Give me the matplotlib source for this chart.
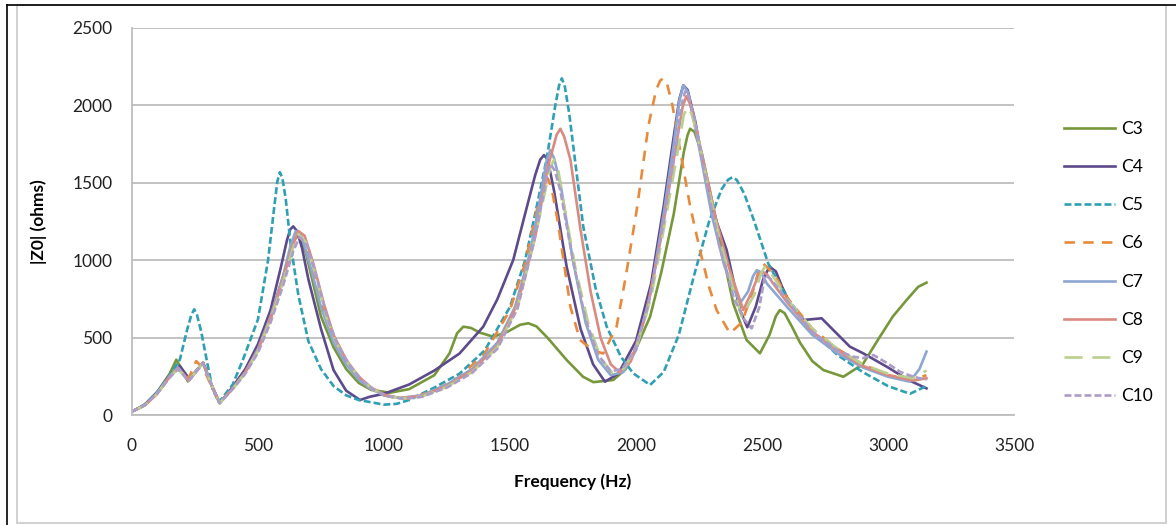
import matplotlib
matplotlib.use('Agg')
import matplotlib.pyplot as plt
from matplotlib.lines import Line2D
from matplotlib.patches import Rectangle

plt.rcParams['font.family'] = ['Lato', 'DejaVu Sans']
plt.rcParams['lines.scale_dashes'] = False

# values (frequency in Hz, |Z0| in ohms)
f_c3 = [0, 50, 100, 150, 176, 200, 222, 250, 282, 315, 348, 400, 450, 500, 550, 600, 630, 642, 655, 670, 690,
        715, 750, 800, 850, 900, 950, 1024, 1100, 1200, 1260, 1290, 1315, 1345, 1380, 1434, 1490, 1540,
        1573, 1605, 1650, 1725, 1790, 1831, 1910, 1960, 2000, 2056, 2100, 2150, 2190, 2205, 2215, 2232,
        2260, 2300, 2333, 2386, 2439, 2492, 2530, 2555, 2571, 2590, 2620, 2651, 2700, 2744, 2823, 2900,
        2968, 3020, 3074, 3120, 3153]
z_c3 = [25, 65, 150, 270, 360, 290, 220, 275, 340, 200, 80, 180, 290, 440, 640, 900, 1070, 1130, 1155, 1140, 1050,
        880, 640, 440, 300, 210, 165, 147, 170, 260, 400, 530, 573, 565, 535, 508, 540, 585,
        595, 575, 500, 358, 250, 215, 229, 300, 430, 637, 920, 1300, 1700, 1810, 1850, 1830,
        1700, 1400, 1132, 723, 487, 401, 520, 640, 680, 660, 570, 470, 350, 293, 250, 330,
        508, 640, 745, 830, 857]

f_c4 = [0, 50, 100, 150, 190, 228, 255, 283, 315, 348, 400, 450, 500, 550, 590, 615, 628, 640, 655, 675, 700,
        750, 800, 850, 905, 944, 1000, 1100, 1200, 1300, 1394, 1450, 1513, 1560, 1600, 1620, 1635, 1650,
        1675, 1725, 1780, 1830, 1877, 1930, 2000, 2060, 2110, 2150, 2172, 2188, 2205, 2235, 2280, 2320,
        2360, 2413, 2442, 2475, 2505, 2530, 2555, 2580, 2611, 2664, 2737, 2790, 2849, 2902, 3000, 3081,
        3153]
z_c4 = [25, 70, 150, 260, 320, 235, 290, 340, 200, 80, 185, 300, 460, 680, 950, 1130, 1200, 1220, 1190, 1080, 880,
        560, 293, 160, 100, 121, 140, 200, 290, 400, 573, 750, 1003, 1300, 1550, 1650, 1680, 1650,
        1450, 960, 560, 330, 218, 270, 480, 850, 1350, 1800, 2040, 2130, 2100, 1900, 1498, 1250,
        1067, 680, 569, 700, 880, 960, 930, 830, 724, 616, 627, 540, 444, 401, 310, 229,
        175]

f_c5 = [0, 50, 100, 150, 190, 220, 236, 247, 258, 275, 300, 320, 345, 400, 440, 500, 540, 565, 577, 587, 597,
        610, 630, 660, 700, 750, 800, 850, 900, 1000, 1050, 1100, 1200, 1300, 1400, 1500, 1560, 1600,
        1645, 1680, 1695, 1706, 1718, 1735, 1791, 1840, 1884, 1940, 1989, 2056, 2110, 2170, 2230, 2290,
        2340, 2365, 2382, 2400, 2430, 2470, 2525, 2600, 2700, 2800, 2900, 3000, 3087, 3153]
z_c5 = [25, 70, 150, 260, 360, 560, 650, 685, 650, 540, 330, 170, 85, 200, 358, 620, 1000, 1350, 1510, 1570, 1530,
        1400, 1100, 780, 480, 300, 190, 130, 100, 70, 75, 100, 180, 270, 420, 700, 1000, 1300,
        1650, 2000, 2130, 2175, 2120, 1950, 1218, 820, 573, 380, 272, 197, 280, 520, 900, 1250,
        1460, 1520, 1537, 1520, 1430, 1250, 980, 760, 540, 390, 280, 190, 140, 190]

f_c6 = [0, 50, 100, 150, 180, 225, 255, 285, 315, 348, 400, 450, 500, 550, 600, 635, 660, 690, 730, 780,
        830, 880, 940, 1000, 1050, 1100, 1200, 1300, 1400, 1500, 1560, 1610, 1635, 1650, 1665, 1690, 1740,
        1778, 1830, 1870, 1923, 1960, 2003, 2050, 2080, 2096, 2108, 2122, 2145, 2175, 2215, 2254, 2290,
        2320, 2373, 2420, 2460, 2490, 2505, 2525, 2560, 2600, 2700, 2800, 2900, 3000, 3100, 3153]
z_c6 = [25, 65, 140, 250, 300, 240, 351, 300, 190, 80, 175, 280, 420, 620, 880, 1100, 1180, 1100, 850, 580,
        390, 270, 180, 130, 112, 110, 160, 250, 400, 680, 980, 1350, 1490, 1530, 1470, 1250, 700,
        487, 420, 400, 573, 900, 1325, 1874, 2100, 2160, 2175, 2150, 2000, 1712, 1350, 1067, 830,
        680, 530, 600, 780, 950, 980, 950, 880, 760, 560, 430, 330, 260, 230, 260]

f_c7 = [0, 50, 100, 150, 183, 225, 282, 315, 348, 400, 450, 500, 550, 600, 630, 650, 675, 710, 750, 800,
        850, 900, 950, 1000, 1063, 1150, 1250, 1350, 1450, 1520, 1580, 1620, 1645, 1660, 1675, 1700, 1750,
        1800, 1850, 1900, 1950, 2000, 2060, 2110, 2150, 2172, 2188, 2205, 2230, 2260, 2300, 2350, 2413,
        2445, 2465, 2480, 2497, 2520, 2600, 2700, 2800, 2900, 3000, 3087, 3125, 3153]
z_c7 = [25, 65, 145, 255, 310, 225, 341, 200, 80, 175, 280, 430, 640, 900, 1100, 1190, 1150, 950, 700, 470,
        330, 230, 170, 130, 113, 130, 200, 300, 470, 700, 1050, 1400, 1640, 1712, 1660, 1500, 1000,
        600, 360, 260, 280, 420, 800, 1300, 1750, 2030, 2130, 2090, 1900, 1650, 1300, 970, 724,
        800, 900, 938, 920, 850, 700, 520, 400, 310, 250, 218, 300, 412]

f_c8 = [0, 50, 100, 150, 183, 225, 282, 315, 348, 400, 450, 500, 550, 600, 635, 660, 685, 720, 760, 800,
        850, 900, 950, 1000, 1063, 1150, 1250, 1350, 1450, 1530, 1600, 1650, 1685, 1700, 1715, 1740, 1780,
        1820, 1860, 1900, 1935, 1980, 2040, 2100, 2150, 2185, 2200, 2215, 2240, 2280, 2320, 2370, 2426,
        2460, 2485, 2500, 2520, 2545, 2600, 2700, 2800, 2900, 3000, 3100, 3153]
z_c8 = [25, 65, 140, 250, 305, 225, 341, 200, 80, 175, 280, 420, 630, 880, 1080, 1190, 1160, 980, 730, 520,
        360, 250, 180, 135, 113, 125, 190, 290, 450, 720, 1150, 1600, 1810, 1850, 1800, 1650, 1200,
        800, 500, 330, 280, 350, 650, 1150, 1650, 1990, 2060, 2010, 1850, 1550, 1250, 950, 680,
        800, 900, 930, 910, 850, 730, 540, 420, 320, 260, 225, 240]

f_c9 = [0, 50, 100, 150, 183, 225, 282, 315, 348, 400, 450, 500, 550, 600, 635, 660, 690, 730, 770, 810,
        860, 910, 960, 1010, 1070, 1150, 1250, 1350, 1450, 1530, 1600, 1640, 1660, 1675, 1690, 1710, 1760,
        1810, 1860, 1905, 1950, 2000, 2060, 2110, 2160, 2190, 2205, 2220, 2245, 2290, 2330, 2380, 2420,
        2470, 2497, 2512, 2530, 2560, 2600, 2700, 2800, 2900, 3000, 3100, 3153]
z_c9 = [25, 65, 140, 250, 300, 225, 338, 200, 80, 170, 275, 415, 620, 860, 1060, 1170, 1120, 900, 640, 470,
        330, 230, 165, 128, 110, 122, 185, 280, 440, 700, 1150, 1450, 1600, 1650, 1600, 1400, 950,
        600, 370, 275, 300, 430, 760, 1200, 1650, 1940, 1990, 1950, 1800, 1450, 1150, 850, 637,
        780, 920, 960, 930, 860, 750, 560, 430, 330, 270, 240, 290]

f_c10 = [0, 50, 100, 150, 183, 225, 282, 315, 348, 400, 450, 500, 550, 600, 640, 665, 695, 735, 775, 815,
         865, 915, 965, 1015, 1075, 1150, 1250, 1350, 1450, 1530, 1595, 1630, 1648, 1662, 1678, 1700, 1750,
         1800, 1850, 1900, 1945, 1995, 2050, 2110, 2160, 2180, 2195, 2210, 2235, 2280, 2330, 2390, 2430,
         2459, 2490, 2512, 2535, 2560, 2620, 2700, 2800, 2860, 2900, 2942, 2995, 3050, 3100, 3153]
z_c10 = [25, 65, 140, 245, 300, 222, 335, 198, 80, 170, 270, 405, 600, 840, 1060, 1150, 1100, 880, 630, 460,
         320, 225, 160, 125, 108, 120, 180, 275, 430, 690, 1120, 1400, 1570, 1620, 1580, 1450, 1000,
         620, 390, 285, 300, 420, 720, 1250, 1750, 2000, 2090, 2060, 1900, 1500, 1100, 750, 620,
         562, 700, 906, 880, 830, 700, 540, 420, 380, 370, 390, 340, 280, 250, 230]

labels = ['C3', 'C4', 'C5', 'C6', 'C7', 'C8', 'C9', 'C10']
freqs = [f_c3, f_c4, f_c5, f_c6, f_c7, f_c8, f_c9, f_c10]
zvals = [z_c3, z_c4, z_c5, z_c6, z_c7, z_c8, z_c9, z_c10]
colors = ['#76973A', '#5D4A8C', '#2F9FB5', '#E88A3C', '#8DA6D2', '#DA8A80', '#BAD08C', '#AC9CC8']
dashes = [None, None, (5, 2.2), (7.5, 6), None, None, (13, 7), (5, 2.2)]

fig = plt.figure(figsize=(11.76, 5.25), dpi=100)
ax = fig.add_axes([0.1122, 0.2086, 0.7500, 0.7381])

for f, z, lab, c, d in zip(freqs, zvals, labels, colors, dashes):
    line, = ax.plot(f, z, color=c, lw=1.9, label=lab, solid_joinstyle='round', dash_joinstyle='round')
    if d is not None:
        line.set_dashes(d)

ax.set_xlim(0, 3500)
ax.set_ylim(0, 2500)
ax.set_xticks(range(0, 3501, 500))
ax.set_yticks(range(0, 2501, 500))
ax.grid(axis='y', color='#BDBDBD', lw=1.3)
ax.set_axisbelow(True)
for s in ['top', 'right']:
    ax.spines[s].set_visible(False)
for s in ['left', 'bottom']:
    ax.spines[s].set_color('#BDBDBD')
    ax.spines[s].set_linewidth(1.3)
ax.tick_params(axis='both', length=0, labelsize=12.5, colors='#222222')
ax.tick_params(axis='y', pad=14)
ax.tick_params(axis='x', pad=16)

ax.set_xlabel('Frequency (Hz)', fontsize=12.5, fontweight='bold', labelpad=14)
ax.set_ylabel('|Z0| (ohms)', fontsize=12.5, fontweight='bold', labelpad=18)

fig.legend(loc='center left', bbox_to_anchor=(0.905, 0.5), frameon=False, fontsize=12.5,
           handlelength=2.9, handletextpad=0.35, labelspacing=1.28, borderpad=0, borderaxespad=0)

# chart frame
fig.add_artist(Rectangle((17 / 1176, 2 / 525), 1149 / 1176, 518 / 525, transform=fig.transFigure,
                         fill=False, edgecolor='#C8C8C8', lw=1.2))
fig.add_artist(Line2D([7 / 1176, 1.0], [1 - 5 / 525, 1 - 5 / 525], transform=fig.transFigure,
                      color='black', lw=1.2))
fig.add_artist(Line2D([7 / 1176, 7 / 1176], [0, 1 - 5 / 525], transform=fig.transFigure,
                      color='black', lw=1.2))

fig.savefig('out.png', dpi=100)
